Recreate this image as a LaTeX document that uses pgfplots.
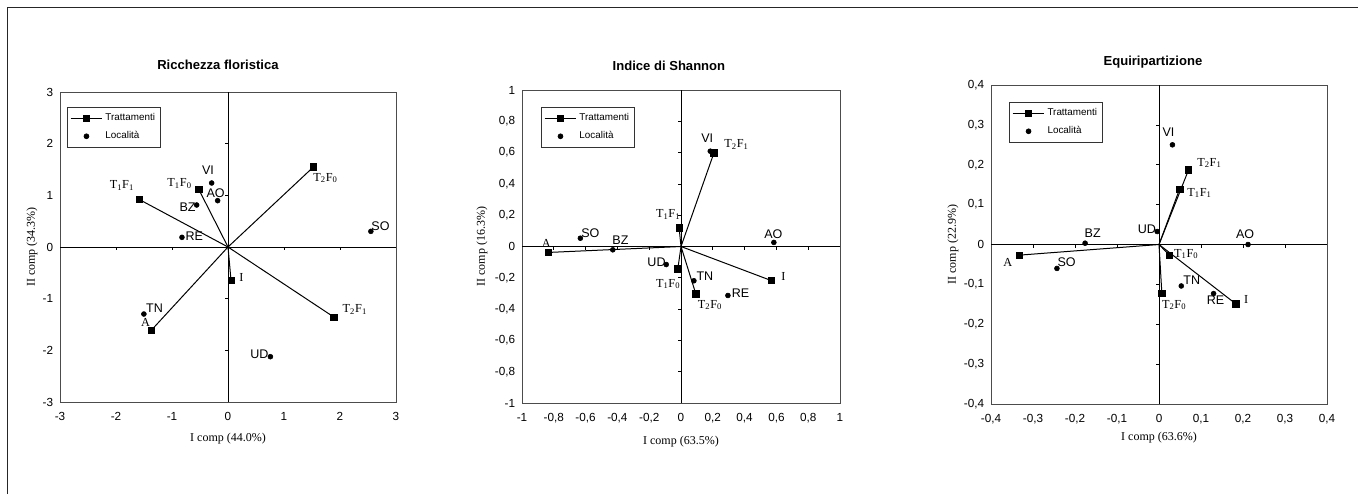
\documentclass[border=0pt]{standalone}
\usepackage{fontspec}
\setmainfont{Liberation Sans}
\newfontfamily\serif{Liberation Serif}
\usepackage{pgfplots}
\usepackage{pgfplotstable}
\pgfplotsset{compat=1.18}

\newcommand\tf[2]{T\textsubscript{#1}F\textsubscript{#2}}

% treatments: point (x,y), label position (lx,ly)
\pgfplotstableread{
x y lx ly lab
-1.585 0.92 -1.895 1.187 \tf{1}{1}
-0.524 1.12 -0.864 1.226 \tf{1}{0}
1.526 1.55 1.74 1.335 \tf{2}{0}
0.054 -0.645 0.238 -0.587 I
1.889 -1.355 2.265 -1.213 \tf{2}{1}
-1.371 -1.613 -1.472 -1.458 A
}\trA
\pgfplotstableread{
x y lx ly lab
-0.292 1.239 -0.358 1.484 VI
-0.185 0.897 -0.22 1.045 AO
-0.56 0.813 -0.721 0.774 BZ
-0.822 0.187 -0.602 0.219 RE
2.551 0.303 2.723 0.4 SO
-1.502 -1.297 -1.311 -1.187 TN
0.757 -2.123 0.56 -2.084 UD
}\locA
\pgfplotstableread{
x y lx ly lab
-0.836 -0.038 -0.847 0.021 A
-0.012 0.119 -0.081 0.206 \tf{1}{1}
0.207 0.598 0.349 0.653 \tf{2}{1}
-0.02 -0.143 -0.081 -0.24 \tf{1}{0}
0.093 -0.302 0.182 -0.374 \tf{2}{0}
0.566 -0.217 0.644 -0.194 I
}\trB
\pgfplotstableread{
x y lx ly lab
0.184 0.609 0.165 0.689 VI
-0.633 0.053 -0.57 0.085 SO
-0.429 -0.021 -0.381 0.038 BZ
0.584 0.026 0.581 0.079 AO
-0.093 -0.115 -0.154 -0.102 UD
0.081 -0.219 0.15 -0.187 TN
0.295 -0.313 0.375 -0.3 RE
}\locB
\pgfplotstableread{
x y lx ly lab
-0.333 -0.0267 -0.36 -0.045 A
0.0703 0.187 0.12 0.205 \tf{2}{1}
0.049 0.139 0.0965 0.129 \tf{1}{1}
0.025 -0.0267 0.0647 -0.0242 \tf{1}{0}
0.0068 -0.1228 0.036 -0.152 \tf{2}{0}
0.183 -0.149 0.2077 -0.1386 I
}\trC
\pgfplotstableread{
x y lx ly lab
0.032 0.25 0.0226 0.282 VI
-0.176 0.0033 -0.158 0.0284 BZ
-0.243 -0.060 -0.22 -0.045 SO
-0.0044 0.0326 -0.029 0.0384 UD
0.212 0 0.205 0.025 AO
0.053 -0.104 0.078 -0.089 TN
0.130 -0.123 0.1346 -0.1386 RE
}\locC

\pgfplotsset{
  pca/.style={
    scale only axis, clip=false,
    axis line style={black!70, line width=0.7pt},
    major tick length=0pt, tick style={draw=none},
    ticklabel style={font=\fontsize{8.8}{10}\selectfont},
    xticklabel style={anchor=center, yshift=-11pt},
    yticklabel style={anchor=east, inner sep=0pt, xshift=-5pt},
    /pgf/number format/use comma,
    /pgf/number format/assume math mode=true,
    title style={font=\bfseries\fontsize{9.8}{11}\selectfont, anchor=center},
    legend style={font=\fontsize{7.4}{8.5}\selectfont, draw=black!80, line width=0.6pt,
      anchor=north west, row sep=2.6pt, inner xsep=2pt, inner ysep=2.8pt},
    legend cell align=left,
    legend image code/.code={\draw[mark repeat=2,mark phase=2]
      plot coordinates {(0cm,0cm)(0.42cm,0cm)(0.84cm,0cm)};},
  },
  xlab/.style={every axis x label/.style={at={([yshift=-#1]axis description cs:0.5,0)},
    anchor=center, font=\serif\fontsize{9}{10}\selectfont}},
  ylab/.style={every axis y label/.style={at={([xshift=-#1]axis description cs:0,0.5)},
    anchor=center, rotate=90, font=\serif\fontsize{9}{10}\selectfont}},
  trlines/.style={quiver={u=\thisrow{x},v=\thisrow{y}}, black, line width=0.75pt, no marks},
  trmarks/.style={only marks, mark=square*, mark size=2.4pt, black},
  locmarks/.style={only marks, mark=*, mark size=1.85pt, black},
  trlab/.style={draw=none, no marks, point meta=explicit symbolic, nodes near coords,
    every node near coord/.append style={anchor=center, inner sep=0pt, text=black,
      font=\serif\fontsize{9.2}{10}\selectfont}},
  loclab/.style={draw=none, no marks, point meta=explicit symbolic, nodes near coords,
    every node near coord/.append style={anchor=center, inner sep=0pt, text=black,
      font=\fontsize{9.4}{10}\selectfont}},
}

\newcommand\legendpair{%
  \addlegendimage{black, line width=0.6pt, mark=square*, mark size=2.2pt}
  \addlegendentry{Trattamenti}
  \addlegendimage{only marks, mark=*, mark size=1.8pt, black}
  \addlegendentry{Località}}

\begin{document}
\begin{tikzpicture}
\useasboundingbox (0pt,0pt) rectangle (1018.5pt,-370.5pt);

% ---- Ricchezza floristica
\begin{axis}[pca, at={(45pt,-69pt)}, anchor=north west, width=252pt, height=232.5pt,
  xmin=-3, xmax=3, ymin=-3, ymax=3,
  xtick={-3,-2,-1,0,1,2,3}, ytick={-3,-2,-1,0,1,2,3},
  title={Ricchezza floristica}, title style={at={(0.47,1)}, yshift=14.25pt},
  xlabel={I comp (44.0\%)}, ylabel={II comp (34.3\%)}, xlab=27.75pt, ylab=21pt,
  legend style={at={(0.021,0.952)}}]
\legendpair
\draw[black, line width=0.7pt] (axis cs:-3,0) -- (axis cs:3,0);
\draw[black, line width=0.7pt] (axis cs:0,-3) -- (axis cs:0,3);
\pgfplotsinvokeforeach{-2,-1,1,2}{
  \draw[black, line width=0.5pt] (axis cs:#1,0) -- ++(0pt,-2.5pt);
  \draw[black, line width=0.5pt] (axis cs:0,#1) -- ++(-2.5pt,0pt);}
\addplot[trlines] table[x expr=0, y expr=0] {\trA};
\addplot[trmarks] table[x=x, y=y] {\trA};
\addplot[locmarks] table[x=x, y=y] {\locA};
\addplot[trlab] table[x=lx, y=ly, meta=lab] {\trA};
\addplot[loclab] table[x=lx, y=ly, meta=lab] {\locA};
\end{axis}

% ---- Indice di Shannon
\begin{axis}[pca, at={(391.5pt,-67.5pt)}, anchor=north west, width=238.5pt, height=234.75pt,
  xmin=-1, xmax=1, ymin=-1, ymax=1,
  xtick={-1,-0.8,-0.6,-0.4,-0.2,0,0.2,0.4,0.6,0.8,1},
  ytick={-1,-0.8,-0.6,-0.4,-0.2,0,0.2,0.4,0.6,0.8,1},
  title={Indice di Shannon}, title style={at={(0.462,1)}, yshift=12pt},
  xlabel={I comp (63.5\%)}, ylabel={II comp (16.3\%)}, xlab=29.25pt, ylab=30pt,
  legend style={at={(0.06,0.946)}}]
\legendpair
\draw[black, line width=0.7pt] (axis cs:-1,0) -- (axis cs:1,0);
\draw[black, line width=0.7pt] (axis cs:0,-1) -- (axis cs:0,1);
\pgfplotsinvokeforeach{-0.8,-0.6,-0.4,-0.2,0.2,0.4,0.6,0.8}{
  \draw[black, line width=0.5pt] (axis cs:#1,0) -- ++(0pt,-2.5pt);
  \draw[black, line width=0.5pt] (axis cs:0,#1) -- ++(-2.5pt,0pt);}
\addplot[trlines] table[x expr=0, y expr=0] {\trB};
\addplot[trmarks] table[x=x, y=y] {\trB};
\addplot[locmarks] table[x=x, y=y] {\locB};
\addplot[trlab] table[x=lx, y=ly, meta=lab] {\trB};
\addplot[loclab] table[x=lx, y=ly, meta=lab] {\locB};
\end{axis}

% ---- Equiripartizione
\begin{axis}[pca, at={(743.25pt,-63.75pt)}, anchor=north west, width=252pt, height=239.25pt,
  xmin=-0.4, xmax=0.4, ymin=-0.4, ymax=0.4,
  xtick={-0.4,-0.3,-0.2,-0.1,0,0.1,0.2,0.3,0.4},
  ytick={-0.4,-0.3,-0.2,-0.1,0,0.1,0.2,0.3,0.4},
  title={Equiripartizione}, title style={at={(0.482,1)}, yshift=11.25pt},
  xlabel={I comp (63.6\%)}, ylabel={II comp (22.9\%)}, xlab=25.5pt, ylab=28.5pt,
  legend style={at={(0.054,0.947)}}]
\legendpair
\draw[black, line width=0.7pt] (axis cs:-0.4,0) -- (axis cs:0.4,0);
\draw[black, line width=0.7pt] (axis cs:0,-0.4) -- (axis cs:0,0.4);
\pgfplotsinvokeforeach{-0.3,-0.2,-0.1,0.1,0.2,0.3}{
  \draw[black, line width=0.5pt] (axis cs:#1,0) -- ++(0pt,-2.5pt);
  \draw[black, line width=0.5pt] (axis cs:0,#1) -- ++(-2.5pt,0pt);}
\addplot[trlines] table[x expr=0, y expr=0] {\trC};
\addplot[trmarks] table[x=x, y=y] {\trC};
\addplot[locmarks] table[x=x, y=y] {\locC};
\addplot[trlab] table[x=lx, y=ly, meta=lab] {\trC};
\addplot[loclab] table[x=lx, y=ly, meta=lab] {\locC};
\end{axis}

% outer frame (only top and left edges show in the reference)
\draw[black!85, line width=1pt] (5.8pt,-370.5pt) -- (5.8pt,-5.8pt) -- (1018.5pt,-5.8pt);
\end{tikzpicture}
\end{document}
